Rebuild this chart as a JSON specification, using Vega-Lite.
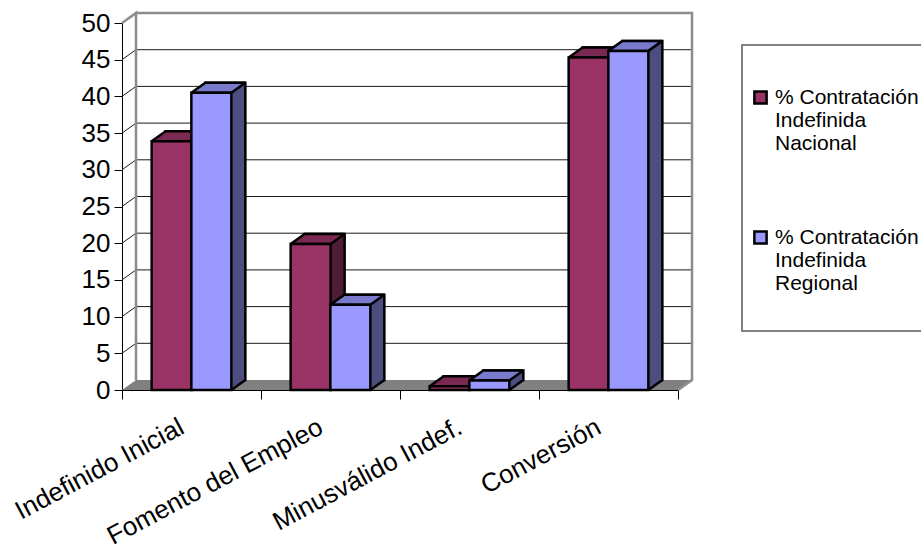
{
"$schema":"https://vega.github.io/schema/vega-lite/v6.json",
"width":570,"height":377,
"autosize":"none",
"padding":{"left":122,"top":13,"right":229,"bottom":163},
"background":"white",
"config":{"view":{"stroke":null},"font":"Liberation Sans","axis":{"labelFont":"Liberation Sans"},"legend":{"labelFont":"Liberation Sans"}},
"datasets":{
"bars":[
{"categoria":"Indefinido Inicial","serie":"% Contratación Indefinida Nacional","valor":33.9},
{"categoria":"Indefinido Inicial","serie":"% Contratación Indefinida Regional","valor":40.5},
{"categoria":"Fomento del Empleo","serie":"% Contratación Indefinida Nacional","valor":19.9},
{"categoria":"Fomento del Empleo","serie":"% Contratación Indefinida Regional","valor":11.6},
{"categoria":"Minusválido Indef.","serie":"% Contratación Indefinida Nacional","valor":0.5},
{"categoria":"Minusválido Indef.","serie":"% Contratación Indefinida Regional","valor":1.3},
{"categoria":"Conversión","serie":"% Contratación Indefinida Nacional","valor":45.3},
{"categoria":"Conversión","serie":"% Contratación Indefinida Regional","valor":46.2}
],
"grid":[{"g":5},{"g":10},{"g":15},{"g":20},{"g":25},{"g":30},{"g":35},{"g":40},{"g":45}],
"one":[{"g":0}]
},
"layer":[
{"data":{"name":"one"},
 "mark":{"type":"point","filled":true,"size":4,"fill":"#808080","strokeWidth":0,"opacity":1,"shape":"M-285,0 L271,0 L285,-10 L-271,-10 Z"},
 "encoding":{"y":{"field":"g","type":"quantitative","scale":{"domain":[0,50],"range":[377,10]},"axis":null}}},
{"data":{"name":"grid"},
 "mark":{"type":"point","filled":false,"size":4,"stroke":"#1a1a1a","strokeWidth":1,"opacity":1,"shape":"M-285,0 L-271,-10 L285,-10"},
 "encoding":{"y":{"field":"g","type":"quantitative","scale":{"domain":[0,50],"range":[377,10]},"axis":null}}},
{"data":{"name":"one"},
 "mark":{"type":"point","filled":false,"size":4,"stroke":"#8c8c8c","strokeWidth":2.5,"opacity":1,"shape":"M-271,-10 L-271,-377 L-285,-367 M-271,-377 L285,-377 L285,-10 L271,0"},
 "encoding":{"y":{"field":"g","type":"quantitative","scale":{"domain":[0,50],"range":[377,10]},"axis":null}}},
{"data":{"name":"one"},
 "mark":{"type":"point","filled":false,"size":4,"stroke":"#808080","strokeWidth":2,"opacity":1,"shape":"M335,-345 L530,-345 L530,-59 L335,-59 Z"},
 "encoding":{"y":{"field":"g","type":"quantitative","scale":{"domain":[0,50],"range":[377,10]},"axis":null}}},
{"data":{"name":"bars"},
 "mark":{"type":"bar","stroke":"black","strokeWidth":2.5,"width":40},
 "encoding":{
  "x":{"field":"categoria","type":"nominal","sort":null,"scale":{"range":[14,570],"paddingInner":0,"paddingOuter":0},"axis":null},
  "xOffset":{"field":"serie","type":"nominal","scale":{"paddingInner":0,"paddingOuter":0.75}},
  "y":{"field":"valor","type":"quantitative","scale":{"domain":[0,50],"range":[367,0]},"axis":null},
  "color":{"field":"serie","type":"nominal","legend":null,"scale":{"range":["#4f1c38","#4d4d80"]}}}},
{"data":{"name":"bars"},
 "mark":{"type":"point","filled":true,"size":4,"strokeWidth":0,"opacity":1,"shape":"M20,0 L33,-9 L33,-12 L20,-12 Z"},
 "encoding":{
  "x":{"field":"categoria","type":"nominal","sort":null,"scale":{"type":"band","range":[0,556],"paddingInner":0,"paddingOuter":0},"axis":null},
  "xOffset":{"field":"serie","type":"nominal","scale":{"type":"band","paddingInner":0,"paddingOuter":0.75}},
  "y":{"datum":0,"type":"quantitative","scale":{"domain":[0,50],"range":[377,10]},"axis":null},
  "color":{"field":"serie","type":"nominal","legend":null,"scale":{"range":["#4f1c38","#4d4d80"]}}}},
{"data":{"name":"bars"},
 "mark":{"type":"point","filled":false,"size":4,"stroke":"black","strokeWidth":2.5,"opacity":1,"shape":"M20,0 L34,-10"},
 "encoding":{
  "x":{"field":"categoria","type":"nominal","sort":null,"scale":{"type":"band","range":[0,556],"paddingInner":0,"paddingOuter":0},"axis":null},
  "xOffset":{"field":"serie","type":"nominal","scale":{"type":"band","paddingInner":0,"paddingOuter":0.75}},
  "y":{"datum":0,"type":"quantitative","scale":{"domain":[0,50],"range":[377,10]},"axis":null}}},
{"data":{"name":"bars"},
 "mark":{"type":"point","filled":true,"size":4,"stroke":"black","strokeWidth":2.5,"strokeMiterLimit":2,"opacity":1,"shape":"M-20,0 L20,0 L34,-10 L-6,-10 Z"},
 "encoding":{
  "x":{"field":"categoria","type":"nominal","sort":null,"scale":{"type":"band","range":[0,556],"paddingInner":0,"paddingOuter":0},"axis":null},
  "xOffset":{"field":"serie","type":"nominal","scale":{"type":"band","paddingInner":0,"paddingOuter":0.75}},
  "y":{"field":"valor","type":"quantitative","scale":{"domain":[0,50],"range":[377,10]},"axis":null},
  "color":{"field":"serie","type":"nominal","legend":null,"scale":{"range":["#7a2952","#7a7acc"]}}}},
{"data":{"name":"bars"},
 "mark":{"type":"bar","stroke":"black","strokeWidth":2.5,"width":40},
 "encoding":{
  "x":{"field":"categoria","type":"nominal","sort":null,"title":null,"scale":{"range":[0,556],"paddingInner":0,"paddingOuter":0},
   "axis":{"labelAngle":-28,"labelAlign":"right","labelBaseline":"middle","labelFontSize":26,"labelColor":"black","labelPadding":26,"labelOffset":-10,"tickBand":"extent","tickSize":9,"tickColor":"black","domainColor":"black","grid":false,"labelLimit":0,"labelOverlap":false,"labelFlush":false}},
  "xOffset":{"field":"serie","type":"nominal","scale":{"paddingInner":0,"paddingOuter":0.75}},
  "y":{"field":"valor","type":"quantitative","title":null,"scale":{"domain":[0,50],"range":[377,10]},
   "axis":{"values":[0,5,10,15,20,25,30,35,40,45,50],"labelFontSize":26,"labelColor":"black","tickColor":"black","domainColor":"black","tickSize":8,"labelPadding":4,"grid":false}},
  "color":{"field":"serie","type":"nominal","title":null,"scale":{"range":["#993366","#9999ff"]},
   "legend":{"orient":"none","legendX":628,"legendY":74,"symbolType":"square","symbolSize":150,"symbolStrokeColor":"black","symbolStrokeWidth":2.5,"symbolFillColor":null,"labelFontSize":21,"labelColor":"black","labelLimit":0,"labelOffset":4,"rowPadding":72,"labelExpr":"['% Contratación','Indefinida',slice(datum.label,26)]","encoding":{"labels":{"update":{"lineHeight":{"value":25}}}}}}}}
],
"resolve":{"scale":{"x":"independent","y":"independent","xOffset":"independent","color":"independent"}}
}
